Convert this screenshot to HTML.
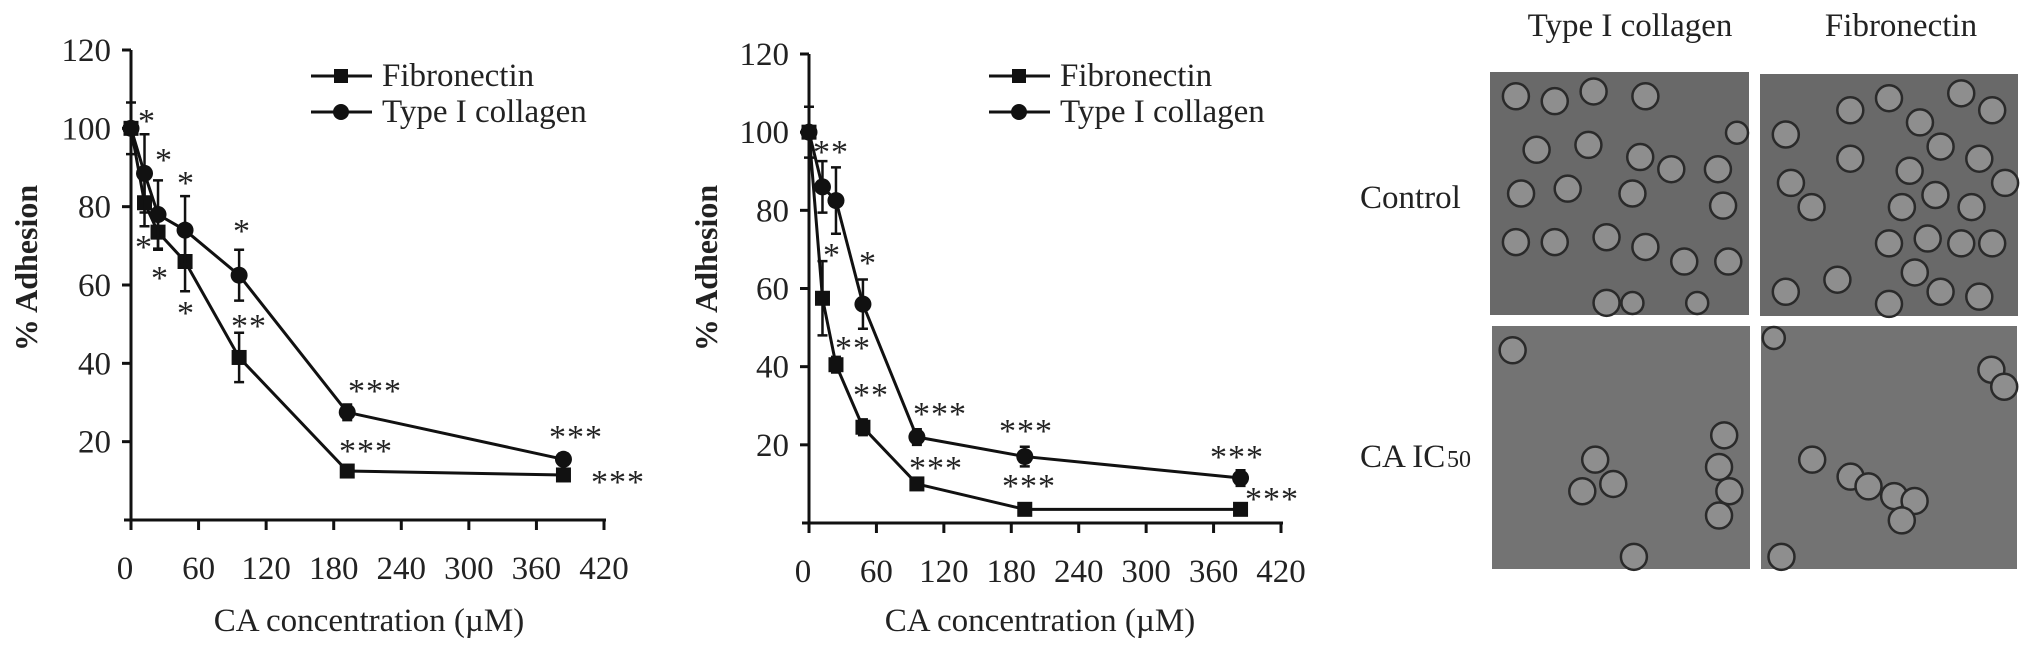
<!DOCTYPE html>
<html><head><meta charset="utf-8"><style>
html,body{margin:0;padding:0;background:#fff;}
svg{display:block;font-family:"Liberation Serif",serif;}
</style></head><body>
<svg id="fig" width="2031" height="648" viewBox="0 0 2031 648" xmlns="http://www.w3.org/2000/svg">
<g id="c1"></g>
<g id="c2"></g>
<g id="photos"></g>
</svg>
<script>
const xCats = [0, 12, 24, 48, 96, 192, 384];
const xTicks = [0, 60, 120, 180, 240, 300, 360, 420];
const yTicks = [20, 40, 60, 80, 100, 120];
const fib1 = [100, 81, 73.5, 66, 41.5, 12.5, 11.5];
const fib1Err = [0, 6, 4.5, 7.6, 6.3, 1.5, 1.5];
const col1 = [100, 88.5, 78, 74, 62.5, 27.5, 15.5];
const col1Err = [6.6, 10, 8.7, 8.7, 6.5, 2, 1.5];
const fib2 = [100, 57.5, 40.5, 24.5, 10, 3.5, 3.5];
const fib2Err = [0, 9.5, 2, 2, 1.5, 1.5, 1.5];
const col2 = [100, 86, 82.5, 56, 22, 17, 11.5];
const col2Err = [6.5, 6.6, 8.5, 6.3, 2, 2.5, 2];
const stars1 = [["*",147,116],["*",164,155],["*",186,178],["*",144,242],["*",160,273],["*",186,308],["*",242,226],["**",249,321],["***",375,386],["***",366,446],["***",576,432],["***",618,477]];
const stars2 = [["**",831,147],["*",832,250],["*",868,258],["**",853,343],["**",871,390],["***",940,409],["***",936,463],["***",1026,426],["***",1029,481],["***",1237,452],["***",1272,494]];

const NS = "http://www.w3.org/2000/svg";
function mk(parent, tag, attrs, text){
  const e = document.createElementNS(NS, tag);
  for (const k in attrs) e.setAttribute(k, attrs[k]);
  if (text !== undefined) e.textContent = text;
  parent.appendChild(e);
  return e;
}

function drawChart(g, ox, oy, top, xEnd, fib, fibErr, col, colErr, stars, legX, ttlX, xTtlX){
  const xS = v => ox + (v/420)*(xEnd-ox);
  const yS = v => oy - (v/120)*(oy-top);
  const ax = mk(g,'path',{d:`M${ox},${top} V${oy} M${ox-7},${oy} H${xEnd+2}`,stroke:'#111','stroke-width':3,fill:'none'});
  
  
  yTicks.forEach(t=>{
    const y=yS(t);
    const l=mk(g,'line',{x1:ox-9,x2:ox,y1:y,y2:y,stroke:'#111','stroke-width':3});
    
    
    const tx=mk(g,'text',{x:ox-20,y:y+11,'text-anchor':'end','font-size':33,fill:'#222'},String(t));
    
    
  });
  xTicks.forEach(t=>{
    const x=xS(t);
    const l=mk(g,'line',{x1:x,x2:x,y1:oy,y2:oy+10,stroke:'#111','stroke-width':3});
    
    
    const tx=mk(g,'text',{x:t===0?x-6:x,y:oy+59,'text-anchor':'middle','font-size':33,fill:'#222'},String(t));
    
    
  });
  const yt=mk(g,'text',{x:0,y:0,transform:`translate(${ttlX+11},${268}) rotate(-90)`,'text-anchor':'middle','font-size':32,'font-weight':'bold',fill:'#222'},'% Adhesion');
  
  
  const xt=mk(g,'text',{x:xTtlX,y:631,'text-anchor':'middle','font-size':33,fill:'#222'},'CA concentration (\u00b5M)');
  
  
  [[fib,fibErr,'sq','fibronectin'],[col,colErr,'ci','collagen']].forEach(([vals,errs,shape,nm])=>{
    const pts=vals.map((v,i)=>[xS(xCats[i]),yS(v)]);
    const pl=mk(g,'polyline',{points:pts.map(p=>p.join(',')).join(' '),fill:'none',stroke:'#111','stroke-width':3});
    
    
    vals.forEach((v,i)=>{
      const x=xS(xCats[i]);
      if(errs[i]>0){
        const y1=yS(v+errs[i]), y2=yS(v-errs[i]);
        const eb=mk(g,'path',{d:`M${x},${y1} V${y2} M${x-5},${y1} H${x+5} M${x-5},${y2} H${x+5}`,stroke:'#111','stroke-width':2.5,fill:'none'});
        
        
      }
      let m;
      if(shape==='sq') m=mk(g,'rect',{x:x-7.5,y:yS(v)-7.5,width:15,height:15,fill:'#111'});
      else m=mk(g,'circle',{cx:x,cy:yS(v),r:8.5,fill:'#111'});
      
      
    });
  });
  stars.forEach(s=>{
    const t=mk(g,'text',{x:s[1],y:s[2]+16,'text-anchor':'middle','font-size':34,fill:'#222','letter-spacing':'1'},s[0]);
    
    
  });
  [['Fibronectin',76,'sq'],['Type I collagen',112,'ci']].forEach(([lab,y,sh])=>{
    const lg=mk(g,'g',{});
    
    
    mk(lg,'line',{x1:legX,x2:legX+61,y1:y,y2:y,stroke:'#111','stroke-width':3});
    if(sh==='sq') mk(lg,'rect',{x:legX+23,y:y-7,width:14,height:14,fill:'#111'});
    else mk(lg,'circle',{cx:legX+30,cy:y,r:8,fill:'#111'});
    mk(lg,'text',{x:legX+71,y:y+10,'font-size':33,fill:'#222'},lab);
  });
}
drawChart(document.getElementById('c1'),131,520,50,604,fib1,fib1Err,col1,col1Err,stars1,311,26,369);
drawChart(document.getElementById('c2'),809,523,54,1281,fib2,fib2Err,col2,col2Err,stars2,989,706,1040);

// micrograph panel
const P=document.getElementById('photos');
const labs=[['Type I collagen',1630,36,'middle','column-label'],['Fibronectin',1901,36,'middle','column-label'],['Control',1360,208,'start','row-label'],['CA IC',1360,467,'start','row-label']];
labs.forEach(l=>{
  const t=mk(P,'text',{x:l[1],y:l[2],'text-anchor':l[3],'font-size':33,fill:'#222'},l[0]);
  
  
});
const sub=mk(P,'text',{x:1447,y:467,'font-size':24,fill:'#222'},'50');


const panels=[[1490,72,259,243,'photo-control-collagen'],[1760,74,258,242,'photo-control-fibronectin'],[1492,326,258,243,'photo-ic50-collagen'],[1761,326,256,243,'photo-ic50-fibronectin']];
const cells=[
 [[.1,.1],[.25,.12],[.4,.08],[.6,.1],[.18,.32],[.38,.3],[.58,.35],[.7,.4],[.88,.4],[.55,.5],[.12,.5],[.3,.48],[.1,.7],[.25,.7],[.45,.68],[.6,.72],[.9,.55],[.75,.78],[.92,.78],[.45,.95],[.55,.97],[.8,.97],[.98,.25]],
 [[.1,.25],[.35,.15],[.5,.1],[.62,.2],[.78,.08],[.9,.15],[.12,.45],[.35,.35],[.58,.4],[.7,.3],[.85,.35],[.2,.55],[.55,.55],[.68,.5],[.82,.55],[.95,.45],[.5,.7],[.65,.68],[.78,.7],[.9,.7],[.1,.9],[.3,.85],[.5,.95],[.7,.9],[.85,.92],[.6,.82]],
 [[.08,.1],[.4,.55],[.47,.65],[.35,.68],[.9,.45],[.88,.58],[.92,.68],[.88,.78],[.55,.95]],
 [[.05,.02],[.9,.18],[.95,.25],[.2,.55],[.35,.62],[.42,.66],[.52,.7],[.6,.72],[.55,.8],[.08,.95]]
];
panels.forEach((p,i)=>{
  const g=mk(P,'g',{});
  
  
  mk(g,'rect',{x:p[0],y:p[1],width:p[2],height:p[3],fill:i<2?'#696969':'#737373'});
  cells[i].forEach(c=>{
    const cx=p[0]+c[0]*p[2], cy=p[1]+c[1]*p[3];
    if(cx<p[0]+10||cx>p[0]+p[2]-10||cy<p[1]+10||cy>p[1]+p[3]-10){
      mk(g,'circle',{cx:Math.min(Math.max(cx,p[0]+12),p[0]+p[2]-12),cy:Math.min(Math.max(cy,p[1]+12),p[1]+p[3]-12),r:11,fill:'#8e8e8e',stroke:'#2a2a2a','stroke-width':2.5});
    } else mk(g,'circle',{cx:cx,cy:cy,r:13,fill:'#8e8e8e',stroke:'#2a2a2a','stroke-width':2.5});
  });
});
</script>
</body></html>
